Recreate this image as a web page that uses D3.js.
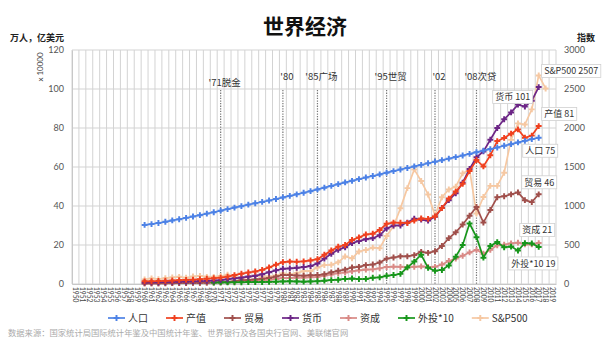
<!DOCTYPE html>
<html><head><meta charset="utf-8">
<script src="https://cdn.jsdelivr.net/npm/d3@7"></script>
<style>
html,body{margin:0;padding:0;background:#fff;}
svg{display:block;}
</style></head><body>
<svg id="chart" width="606" height="343"></svg>
<script>
// ---- data -------------------------------------------------------------
const firstYear = 1950, lastYear = 2019;
const years = d3.range(firstYear, lastYear + 1);
const leftTicks = [0, 20, 40, 60, 80, 100, 120];
const rightTicks = [0, 500, 1000, 1500, 2000, 2500, 3000];

// 人口 (x10000 万人), 1960-2017
const population = [
  30.3,30.7,31.3,31.9,32.6,33.2,33.9,34.6,35.3,36.1,
  36.8,37.6,38.4,39.2,39.9,40.7,41.4,42.1,42.8,43.6,
  44.4,45.2,46.0,46.8,47.6,48.5,49.4,50.3,51.2,52.1,
  52.9,53.8,54.6,55.4,56.2,57.1,57.9,58.7,59.5,60.3,
  61.1,61.9,62.7,63.5,64.3,65.1,65.9,66.7,67.6,68.4,
  69.2,70.0,70.9,71.7,72.6,73.4,74.3,75];
// 产值 (x10000 亿美元), 1960-2017
const output = [
  1.37,1.42,1.53,1.65,1.80,1.96,2.12,2.25,2.43,2.68,
  2.96,3.26,3.77,4.59,5.30,5.89,6.40,7.25,8.53,9.91,
  11.2,11.5,11.4,11.6,12.1,12.7,15.0,17.2,19.1,20.0,
  22.6,23.9,25.4,25.8,27.7,30.9,31.5,31.4,31.3,32.5,
  33.6,33.4,34.6,38.9,43.8,47.4,51.4,57.9,63.6,60.3,
  66.0,73.3,74.9,77.1,79.3,75.0,76.1,81];
// 贸易, 1960-2017
const trade = [
  0.3,0.32,0.35,0.38,0.43,0.47,0.52,0.55,0.6,0.68,
  0.8,0.9,1.05,1.4,2.0,2.1,2.35,2.7,3.1,3.8,
  4.6,4.6,4.4,4.3,4.5,4.6,5.0,6.0,6.8,7.4,
  8.5,8.8,9.7,10.0,11.0,13.0,13.6,14.2,14.2,14.8,
  16.5,16.0,16.8,19.5,23.5,26.5,30.5,35.0,39.5,31.5,
  38.0,44.5,45.0,46.0,47.0,43.0,42.0,46];
// 货币, 1960-2017
const money = [
  0.8,0.85,0.9,1.0,1.1,1.2,1.3,1.4,1.5,1.6,
  1.8,2.0,2.4,2.9,3.3,3.8,4.2,5.0,6.0,7.0,
  7.8,8.0,8.3,8.7,9.2,10.5,13.0,15.5,17.5,18.8,
  21.0,22.0,23.0,23.5,25.0,28.5,30.0,30.0,31.5,33.5,
  33.0,32.5,34.5,39.0,43.0,46.5,52.0,59.0,65.0,68.0,
  74.0,80.0,84.5,88.0,92.0,91.0,94.0,101];
// 资成, 1960-2017
const capital = [
  0.35,0.36,0.39,0.42,0.46,0.5,0.55,0.59,0.63,0.7,
  0.8,0.88,1.0,1.25,1.45,1.55,1.7,1.9,2.2,2.6,
  3.0,3.1,3.2,3.3,3.5,3.7,4.3,4.9,5.5,5.9,
  6.5,7.0,7.4,7.5,8.0,8.7,8.9,8.8,8.6,8.8,
  9.0,8.7,8.8,10.0,11.8,13.0,14.5,16.2,17.5,15.5,
  17.5,19.8,20.2,20.8,21.2,20.3,20.3,21];
// 外投*10, 1970-2017
const fdi10 = [
  0.7,0.8,0.8,0.9,0.9,1.0,1.0,1.0,1.1,1.2,
  1.3,1.4,1.3,1.2,1.3,1.4,1.7,2.0,2.2,2.6,
  2.8,2.5,2.6,3.2,3.4,4.2,4.6,5.2,8.5,11.5,
  15.0,8.3,6.8,7.2,9.5,14.0,20.0,31.0,24.0,13.5,
  19.5,21.5,18.8,19.2,17.2,21.0,20.8,19];
// S&P500 指数 (right axis), 1960-2018
const sp500 = [
  58,72,63,75,85,92,80,96,104,92,
  92,102,118,98,69,90,107,95,96,108,
  136,122,141,165,167,211,242,247,278,353,
  330,417,436,466,459,616,741,970,1229,1469,
  1320,1148,880,1112,1212,1248,1418,1468,903,1115,
  1258,1258,1426,1848,2059,2044,2239,2674,2507];

// event markers
const eventYears  = [1971, 1980, 1985, 1995, 2002, 2008];
const eventLabels = ["'71脱金", "'80", "'85广场", "'95世贸", "'02", "'08次贷"];

// ---- series definitions ----------------------------------------------
const series = [
  {name:"人口",    values:population, start:1960, color:"#4d82e6", axis:"L"},
  {name:"产值",    values:output,     start:1960, color:"#f0401e", axis:"L"},
  {name:"贸易",    values:trade,      start:1960, color:"#a04f4b", axis:"L"},
  {name:"货币",    values:money,      start:1960, color:"#6c2586", axis:"L"},
  {name:"资成",    values:capital,    start:1960, color:"#d98a86", axis:"L"},
  {name:"外投*10", values:fdi10,      start:1970, color:"#17961b", axis:"L"},
  {name:"S&P500",  values:sp500,      start:1960, color:"#f6c8a2", axis:"R"}
];
const drawOrder = ["S&P500", "资成", "贸易", "外投*10", "货币", "产值", "人口"];
// end-label placement relative to each series' last point
const endLabelPos = {
  "S&P500":  {dx:-4,  dy:-17.5},
  "产值":    {dx:3,   dy:-12},
  "人口":    {dx:-16, dy:13},
  "贸易":    {dx:-17, dy:-12},
  "资成":    {dx:-19, dy:-13},
  "外投*10": {dx:-30, dy:16.5},
  "货币":    {dx:-46, dy:10}
};

// ---- scales -----------------------------------------------------------
const svg = d3.select("#chart");
const plot = {left:72, right:556, top:50, bottom:284};
const x = d3.scaleBand().domain(years).range([plot.left, plot.right]);
const cx = yr => x(yr) + x.bandwidth() / 2;
const yL = d3.scaleLinear().domain([0, 120]).range([plot.bottom, plot.top]);
const yR = d3.scaleLinear().domain([0, 3000]).range([plot.bottom, plot.top]);

const numFont = "Lato, 'Liberation Sans', sans-serif";
const cjkFont = "'Noto Sans CJK SC', sans-serif";

// ---- title & axis captions --------------------------------------------
svg.append("text").attr("x", 305).attr("y", 34).attr("text-anchor", "middle")
  .attr("font-family", cjkFont).attr("font-weight", 700).attr("font-size", 21)
  .attr("fill", "#111").text("世界经济");
svg.append("text").attr("x", 10).attr("y", 41)
  .attr("font-family", cjkFont).attr("font-weight", 700).attr("font-size", 9)
  .attr("fill", "#222").text("万人，亿美元");
svg.append("text").attr("x", 577).attr("y", 41)
  .attr("font-family", cjkFont).attr("font-weight", 700).attr("font-size", 9)
  .attr("fill", "#222").text("指数");
svg.append("text").attr("transform", "translate(43,67) rotate(-90)")
  .attr("text-anchor", "middle").attr("font-family", numFont).attr("font-size", 8)
  .attr("fill", "#444").text("x 10000");

// ---- grid -------------------------------------------------------------
const grid = svg.append("g");
grid.selectAll("line.v").data(years.concat([null])).join("line")
  .attr("x1", d => d === null ? plot.right : x(d))
  .attr("x2", d => d === null ? plot.right : x(d))
  .attr("y1", plot.top).attr("y2", plot.bottom)
  .attr("stroke", "#d3d3d3").attr("stroke-width", 1);
grid.selectAll("line.h").data(leftTicks).join("line")
  .attr("x1", plot.left).attr("x2", plot.right)
  .attr("y1", d => yL(d)).attr("y2", d => yL(d))
  .attr("stroke", "#d3d3d3").attr("stroke-width", 1);

// left axis
const axL = svg.append("g").attr("transform", `translate(${plot.left},0)`)
  .call(d3.axisLeft(yL).tickValues(leftTicks).tickSize(0).tickPadding(8));
axL.select(".domain").attr("stroke", "#c8c8c8");
axL.selectAll("text").attr("font-family", numFont).attr("font-size", 9).attr("fill", "#555");

// right axis
const axR = svg.append("g").attr("transform", `translate(${plot.right},0)`)
  .call(d3.axisRight(yR).tickValues(rightTicks).tickFormat(d3.format("d"))
    .tickSize(0).tickPadding(8));
axR.select(".domain").remove();
axR.selectAll("text").attr("font-family", numFont).attr("font-size", 9).attr("fill", "#555");

// bottom axis: rotated year labels
const axB = svg.append("g").attr("transform", `translate(0,${plot.bottom})`)
  .call(d3.axisBottom(x).tickSize(0).tickPadding(0));
axB.select(".domain").attr("stroke", "#c8c8c8");
axB.selectAll("text")
  .attr("font-family", numFont).attr("font-size", 6.6).attr("fill", "#444")
  .attr("text-anchor", "start").attr("dy", null)
  .attr("transform", "translate(-2.3,3) rotate(90)");

// ---- event lines ------------------------------------------------------
const ev = svg.append("g");
ev.selectAll("line").data(eventYears).join("line")
  .attr("x1", d => cx(d)).attr("x2", d => cx(d))
  .attr("y1", 90).attr("y2", plot.bottom)
  .attr("stroke", "#777").attr("stroke-width", 1.2).attr("stroke-dasharray", "1.3,1.3");
ev.selectAll("text").data(eventYears).join("text")
  .attr("x", d => cx(d) + 4)
  .attr("y", (d, i) => i === 0 ? 86 : 80)
  .attr("text-anchor", "middle")
  .attr("font-family", cjkFont).attr("font-size", 9.5).attr("fill", "#333")
  .text((d, i) => eventLabels[i]);

// ---- series lines -----------------------------------------------------
const marker = d3.symbol().type(d3.symbolCross).size(19);
const byName = Object.fromEntries(series.map(s => [s.name, s]));
const pointsOf = s => s.values.map((v, i) => ({year: s.start + i, v}));
const yOf = s => (s.axis === "R" ? yR : yL);

drawOrder.forEach(name => {
  const s = byName[name];
  const ys = yOf(s);
  const pts = pointsOf(s);
  const g = svg.append("g");
  g.append("path").datum(pts)
    .attr("d", d3.line().x(d => cx(d.year)).y(d => ys(d.v)))
    .attr("fill", "none").attr("stroke", s.color).attr("stroke-width", 1.7);
  g.selectAll("path.m").data(pts).join("path").attr("class", "m")
    .attr("d", marker)
    .attr("transform", d => `translate(${cx(d.year)},${ys(d.v)})`)
    .attr("fill", s.color);
});

// ---- end labels -------------------------------------------------------
series.forEach(s => {
  const pts = pointsOf(s);
  const last = pts[pts.length - 1];
  const pos = endLabelPos[s.name];
  const bx = cx(last.year) + pos.dx;
  const by = yOf(s)(last.v) + pos.dy;
  const g = svg.append("g");
  const rect = g.append("rect");
  const t = g.append("text")
    .attr("x", bx + 2.5).attr("y", by + 3.3)
    .attr("font-family", cjkFont).attr("font-size", 9).attr("fill", "#333")
    .text(`${s.name} ${last.v}`);
  const w = t.node().getComputedTextLength();
  rect.attr("x", bx).attr("y", by - 6.5).attr("width", w + 5).attr("height", 13)
    .attr("fill", "#fff").attr("stroke", "#d0d0d0").attr("stroke-width", 0.8);
});

// ---- legend -----------------------------------------------------------
const lg = svg.append("g").attr("transform", "translate(0,318)");
let lx = 108;
series.forEach(s => {
  lg.append("line").attr("x1", lx).attr("x2", lx + 17).attr("y1", 0).attr("y2", 0)
    .attr("stroke", s.color).attr("stroke-width", 1.7);
  lg.append("path").attr("d", marker).attr("transform", `translate(${lx + 8.5},0)`)
    .attr("fill", s.color);
  const t = lg.append("text").attr("x", lx + 20).attr("y", 3.5)
    .attr("font-family", cjkFont).attr("font-size", 10).attr("fill", "#333")
    .text(s.name);
  lx += 20 + t.node().getComputedTextLength() + 18;
});

// ---- source note ------------------------------------------------------
svg.append("text").attr("x", 8).attr("y", 336)
  .attr("font-family", cjkFont).attr("font-size", 8.3).attr("fill", "#aaa")
  .text("数据来源：国家统计局国际统计年鉴及中国统计年鉴、世界银行及各国央行官网、美联储官网");
</script></body></html>
